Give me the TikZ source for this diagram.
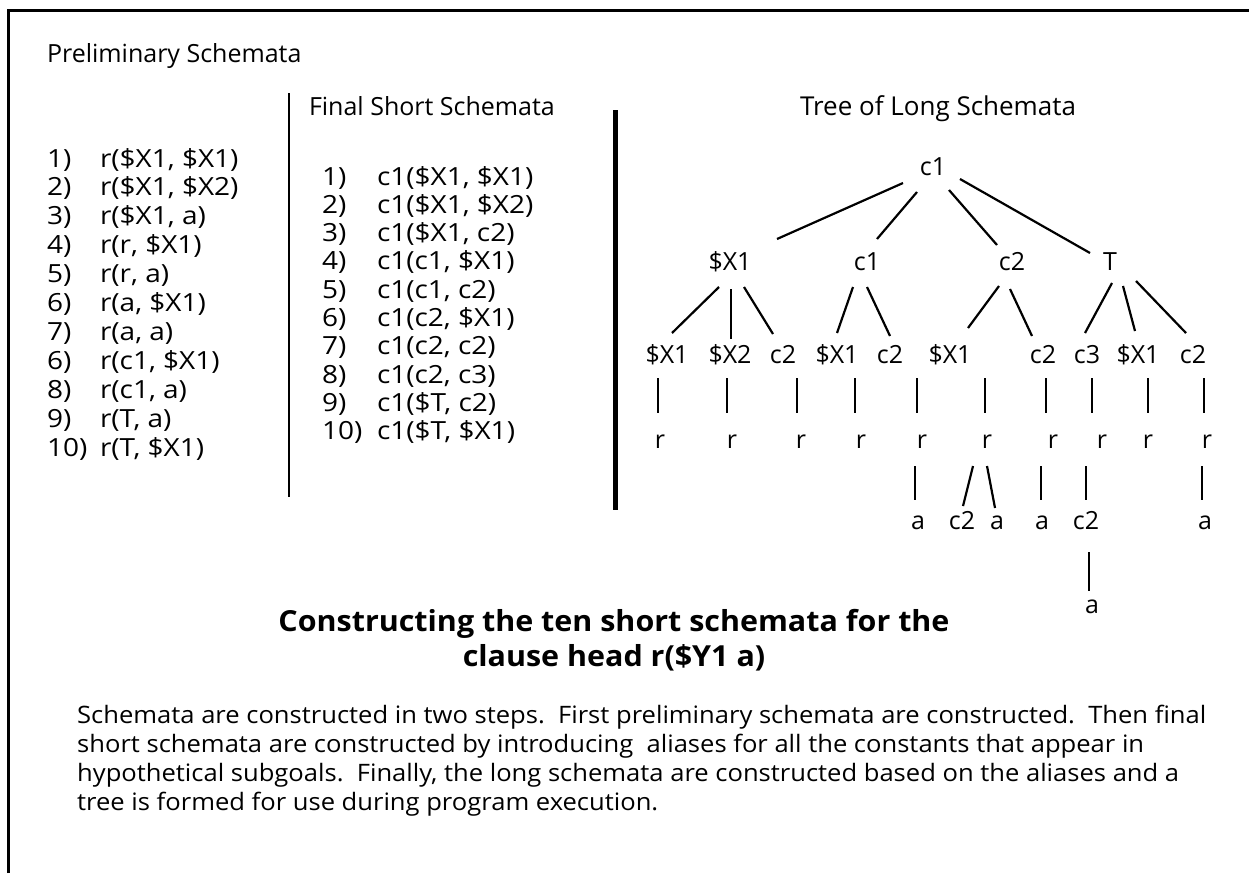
\documentclass[tikz,border=0pt]{standalone}
\usepackage{fontspec}
\setmainfont{Open Sans}
\newfontfamily\listfont[FakeStretch=1.12]{Open Sans}
\newfontfamily\parfont[FakeStretch=1.065]{Open Sans}
\newfontfamily\capfont[FakeStretch=1.05]{Open Sans}
\usetikzlibrary{calc}
\begin{document}
\begin{tikzpicture}[x=1pt,y=-1pt,
  txt/.style={inner sep=0pt, outer sep=0pt, anchor=base west, font=\fontsize{25}{29}\selectfont},
  itm/.style={inner sep=0pt, outer sep=0pt, anchor=base west, font=\listfont\fontsize{25}{29}\selectfont},
  tn/.style={inner sep=0pt, outer sep=0pt, text height=17pt, text depth=0pt, anchor=base, font=\fontsize{25}{29}\selectfont},
  edge/.style={line width=2.2pt},
  rule/.style={line width=#1}]
\useasboundingbox (0,0) rectangle (1249,873);
% frame
\draw[rule=3pt] (8,873) -- (8,10) -- (1249,10);
\draw[rule=2.5pt] (289,93) -- (289,497);
\draw[rule=5pt] (615,110) -- (615,510);
% headers
\node[txt] (h1) at (47,62) {Preliminary Schemata};
\node[txt] (h2) at (309,115) {Final Short Schemata};
\node[txt, anchor=base, font=\fontsize{26}{29}\selectfont] (h3) at (938,115) {Tree of Long Schemata};
% list 1
\foreach \lbl/\itx [count=\i from 0] in {1)/{r(\$X1, \$X1)}, 2)/{r(\$X1, \$X2)}, 3)/{r(\$X1, a)}, 4)/{r(r, \$X1)}, 5)/{r(r, a)}, 6)/{r(a, \$X1)}, 7)/{r(a, a)}, 6)/{r(c1, \$X1)}, 8)/{r(c1, a)}, 9)/{r(T, a)}, 10)/{r(T, \$X1)}}{
  \node[itm] (pn\i) at (47,167+28.9*\i) {\lbl};
  \node[itm] (pt\i) at (100,167+28.9*\i) {\itx};
}
% list 2
\foreach \lbl/\itx [count=\i from 0] in {1)/{c1(\$X1, \$X1)}, 2)/{c1(\$X1, \$X2)}, 3)/{c1(\$X1, c2)}, 4)/{c1(c1, \$X1)}, 5)/{c1(c1, c2)}, 6)/{c1(c2, \$X1)}, 7)/{c1(c2, c2)}, 8)/{c1(c2, c3)}, 9)/{c1(\$T, c2)}, 10)/{c1(\$T, \$X1)}}{
  \node[itm] (fn\i) at (322,185+28.3*\i) {\lbl};
  \node[itm] (ft\i) at (377,185+28.3*\i) {\itx};
}
% tree nodes
\node[tn] (n0) at (933,175) {c1};
\node[tn] (m1) at (730,270) {\$X1};
\node[tn] (m2) at (867,270) {c1};
\node[tn] (m3) at (1012,270) {c2};
\node[tn] (m4) at (1110,270) {T};
\foreach \nm/\xx/\lt in {l1/667/\$X1, l2/730/\$X2, l3/783/c2, l4/837/\$X1, l5/890/c2, l6/950/\$X1, l7/1043/c2, l8/1087/c3, l9/1138/\$X1, l10/1193/c2}
  \node[tn] (\nm) at (\xx,363) {\lt};
\foreach \xx [count=\i] in {660,732,801,861,922,987,1053,1102,1148,1207}
  \node[tn] (r\i) at (\xx,448) {r};
\node[tn] (a1) at (918,529) {a};
\node[tn] (a2) at (962,529) {c2};
\node[tn] (a3) at (997,529) {a};
\node[tn] (a4) at (1042,529) {a};
\node[tn] (a5) at (1086,529) {c2};
\node[tn] (a6) at (1205,529) {a};
\node[tn] (z) at (1092,613) {a};
% tree edges
\begin{scope}[edge]
\draw ([shift={(-30,16.5)}]n0.center) -- ([shift={(47,-22.5)}]m1.center);
\draw ([shift={(-16,25.5)}]n0.center) -- ([shift={(10,-22.5)}]m2.center);
\draw ([shift={(16,23.5)}]n0.center) -- ([shift={(-15,-16.5)}]m3.center);
\draw ([shift={(27,12.5)}]n0.center) -- ([shift={(-20,-8.5)}]m4.center);
\draw ([shift={(-11,25.5)}]m1.center) -- ([shift={(5,-21.5)}]l1.center);
\draw ([shift={(1,27.5)}]m1.center) -- ([shift={(1,-15.5)}]l2.center);
\draw ([shift={(14,25.5)}]m1.center) -- ([shift={(-10,-20.5)}]l3.center);
\draw ([shift={(-14,25.5)}]m2.center) -- ([shift={(0,-21.5)}]l4.center);
\draw ([shift={(0,25.5)}]m2.center) -- ([shift={(0,-18.5)}]l5.center);
\draw ([shift={(-13,24.5)}]m3.center) -- ([shift={(18,-26.5)}]l6.center);
\draw ([shift={(-2,27.5)}]m3.center) -- ([shift={(-11,-18.5)}]l7.center);
\draw ([shift={(2,21.5)}]m4.center) -- ([shift={(-2,-21.5)}]l8.center);
\draw ([shift={(13,24.5)}]m4.center) -- ([shift={(-3,-23.5)}]l9.center);
\draw ([shift={(26,19.5)}]m4.center) -- ([shift={(-7,-21.5)}]l10.center);
\foreach \i/\dl/\dr in {1/-9/-2, 2/-3/-5, 3/14/-4, 4/18/-6, 5/27/-5, 6/35/-2, 7/3/-7, 8/5/-10, 9/10/0, 10/11/-3}
  \draw ([shift={(\dl,23.5)}]l\i.center) -- ([shift={(\dr,-26.5)}]r\i.center);
\draw ([shift={(-7,26.5)}]r5.center) -- ([shift={(-3,-20.5)}]a1.center);
\draw ([shift={(-14,26.5)}]r6.center) -- ([shift={(1,-14.5)}]a2.center);
\draw ([shift={(0,26.5)}]r6.center) -- ([shift={(-2,-12.5)}]a3.center);
\draw ([shift={(-12,26.5)}]r7.center) -- ([shift={(-1,-20.5)}]a4.center);
\draw ([shift={(-16,26.5)}]r8.center) -- ([shift={(0,-20.5)}]a5.center);
\draw ([shift={(-5,26.5)}]r10.center) -- ([shift={(-3,-20.5)}]a6.center);
\draw ([shift={(3,31.5)}]a5.center) -- ([shift={(-3,-13.5)}]z.center);
\end{scope}
% caption (anchor base = baseline of last line)
\node[inner sep=0pt, anchor=base, align=center, font=\capfont\fontsize{29}{35}\selectfont\bfseries] (cap) at (614,666)
  {Constructing the ten short schemata for the\\clause head r(\$Y1 a)};
\node[inner sep=0pt, anchor=base west, align=left, font=\parfont\fontsize{24}{29}\selectfont] (par) at (77,810)
  {Schemata are constructed in two steps.\ \ First preliminary schemata are constructed.\ \ Then final\\
   short schemata are constructed by introducing\ \ aliases for all the constants that appear in\\
   hypothetical subgoals.\ \ Finally, the long schemata are constructed based on the aliases and a\\
   tree is formed for use during program execution.};
\end{tikzpicture}
\end{document}
